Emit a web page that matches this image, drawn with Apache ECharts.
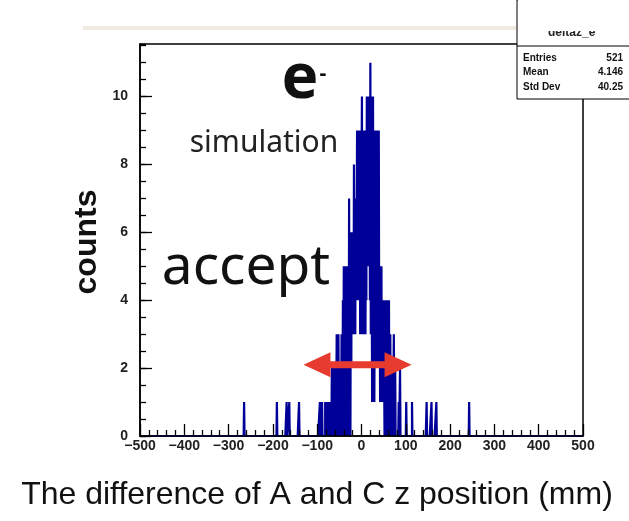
<!DOCTYPE html>
<html><head><meta charset="utf-8">
<script src="https://cdn.jsdelivr.net/npm/echarts@6/dist/echarts.min.js"></script>
<style>html,body{margin:0;padding:0;background:#fff}#c{width:629px;height:521px}</style>
</head><body><div id="c"></div>
<script>
// ---- histogram definition (1 mm bins from -500 to 500) ----
const histMin = -500;
const histMax = 500;
// counts of consecutive 1 mm bins starting at the bin whose low edge is centralFirstBin
const centralFirstBin = -82;
const centralCounts = [
  1,0,1,0,0,1,0,1,0,0,          // -82 .. -73
  1,0,1,1,0,2,0,1,0,1,2,0,      // -72 .. -61
  1,2,0,1,3,0,2,1,3,0,          // -60 .. -51
  2,0,1,2,0,3,1,0,              // -50 .. -43
  4,0,5,2,0,4,5,1,3,0,5,2,4,0,  // -42 .. -29
  7,1,5,0,6,2,6,3,5,            // -28 .. -20
  5,3,8,4,6,3,7,4,6,            // -19 .. -11
  9,4,7,5,9,4,8,3,9,5,          // -10 .. -1
  5,10,3,8,4,9,3,7,9,3,8,4,10,5,// 0 .. 13
  10,5,10,6,10,4,11,3,10,5,1,9,10, // 14 .. 26
  3,6,1,5,                      // 27 .. 30
  9,2,7,9,3,6,2,6,9,3,          // 31 .. 40
  5,1,4,2,5,1,3,4,              // 41 .. 48
  1,4,2,0,3,1,4,0,              // 49 .. 56
  2,4,0,3,1,4,0,2,3,0,2,1,      // 57 .. 68
  0,2,0,0,3,0,0,2,0,0,          // 69 .. 78
  0,0,0,0,0,1,0,0,2,0,0,0       // 79 .. 90
];
const isolatedBins   = [-265, -191, -169, -163, -141, -94, -89, 101, 114, 147, 158, 169, 243];
const isolatedCounts = [1, 1, 1, 1, 1, 1, 1, 1, 1, 1, 1, 1, 1];

const xTickValues = [-500, -400, -300, -200, -100, 0, 100, 200, 300, 400, 500];
const yTickValues = [0, 2, 4, 6, 8, 10];
const yMax = 11.55;

const statsTitle = 'deltaz_e';
const statsLabels = ['Entries', 'Mean', 'Std Dev'];
const statsValues = ['521', '4.146', '40.25'];

const arrowSpan = [-131, 113];
const arrowLevel = 2.1;

// ---- build histogram outline points ----
const nBins = histMax - histMin;
const counts = new Array(nBins).fill(0);
centralCounts.forEach((c, i) => { counts[centralFirstBin + i - histMin] += c; });
isolatedBins.forEach((b, i) => { counts[b - histMin] += isolatedCounts[i]; });
const points = counts.map((c, i) => [histMin + i, c]);
points.push([histMax, 0]);

const chart = echarts.init(document.getElementById('c'), null, {renderer: 'canvas'});
const labelFont = {color: '#222', fontSize: 14, fontWeight: 'bold', fontFamily: 'Liberation Sans, Arial, sans-serif'};

const statsGraphics = [];
statsLabels.forEach((l, i) => {
  statsGraphics.push({type: 'text', id: 'sl' + i, z: 60, left: 523, top: 53 + i * 14.5,
    style: {text: l, fontSize: 10, fontWeight: 'bold', fontFamily: 'Liberation Sans, Arial', fill: '#111'}});
  statsGraphics.push({type: 'text', id: 'sv' + i, z: 60, right: 6, top: 53 + i * 14.5,
    style: {text: statsValues[i], fontSize: 10, fontWeight: 'bold', fontFamily: 'Liberation Sans, Arial', fill: '#111', textAlign: 'right'}});
});

chart.setOption({
  animation: false,
  backgroundColor: '#fff',
  grid: {left: 140, top: 44, width: 443, height: 392, show: true, borderColor: '#000', borderWidth: 1.5, backgroundColor: 'transparent'},
  xAxis: {
    type: 'value', min: histMin, max: histMax, interval: 100, z: 3,
    axisLine: {show: true, onZero: false, lineStyle: {color: '#000', width: 1.5}},
    axisTick: {show: true, inside: true, length: 12, lineStyle: {color: '#000', width: 1.3}},
    minorTick: {show: true, splitNumber: 5, length: 6, lineStyle: {color: '#000', width: 1.3}},
    splitLine: {show: false},
    axisLabel: Object.assign({margin: 3, formatter: v => xTickValues.includes(v) ? (v < 0 ? '\u2212' + (-v) : String(v)) : ''}, labelFont)
  },
  yAxis: [{
    type: 'value', min: 0, max: yMax, interval: 2, position: 'left', z: 3,
    axisLine: {show: true, onZero: false, lineStyle: {color: '#000', width: 1.5}},
    axisTick: {show: true, inside: true, length: 12, lineStyle: {color: '#000', width: 1.3}},
    splitLine: {show: false},
    axisLabel: Object.assign({margin: 12, showMaxLabel: false, formatter: v => yTickValues.includes(v) ? String(v) : ''}, labelFont)
  }, {
    type: 'value', min: 0, max: yMax, interval: 0.5, position: 'left', z: 3,
    axisLine: {show: false, onZero: false},
    axisTick: {show: true, inside: true, length: 6, lineStyle: {color: '#000', width: 1.3}},
    splitLine: {show: false},
    axisLabel: {show: false}
  }],
  series: [{
    type: 'line', data: points, step: 'end', showSymbol: false, symbol: 'none',
    yAxisIndex: 0, clip: true, z: 2,
    lineStyle: {color: '#000099', width: 2.2}
  }],
  graphic: [
    // stats box
    {type: 'rect', id: 'sbox', z: 50, shape: {x: 517, y: 0, width: 140, height: 99}, style: {fill: '#fff', stroke: '#000', lineWidth: 1}},
    {type: 'line', id: 'ssep', z: 51, shape: {x1: 517, y1: 46, x2: 629, y2: 46}, style: {stroke: '#000', lineWidth: 1}},
    {type: 'text', id: 'stitle', z: 52, left: 548, top: 27, style: {text: statsTitle, fontSize: 12, fontWeight: 'bold', fontFamily: 'Liberation Sans, Arial', fill: '#222'}},
    {type: 'rect', id: 'scover', z: 53, shape: {x: 518, y: 0, width: 120, height: 31}, style: {fill: '#fff'}},
    ...statsGraphics,
    // top band of the slide
    {type: 'rect', id: 'topcover', z: 90, shape: {x: 0, y: 0, width: 516, height: 26}, style: {fill: '#fff'}},
    {type: 'rect', id: 'band', z: 91, shape: {x: 83, y: 26, width: 433, height: 4}, style: {fill: '#efebe3'}},
    // annotations
    {type: 'text', id: 't_e2', z: 40, position: [300, 49], style: {text: 'e', fontSize: 62, fontWeight: 'bold', fontFamily: 'Noto Sans, sans-serif', fill: '#111', textAlign: 'center'}},
    {type: 'text', id: 't_minus', z: 40, position: [323, 63], style: {text: '-', fontSize: 22, fontWeight: 'bold', fontFamily: 'Liberation Sans, Arial', fill: '#111', textAlign: 'center'}},
    {type: 'text', id: 't_sim', z: 40, position: [264, 128], style: {text: 'simulation', fontSize: 30, fontFamily: 'Noto Sans, sans-serif', fill: '#222', textAlign: 'center'}},
    {type: 'text', id: 't_acc', z: 40, position: [246, 241], style: {text: 'accept', fontSize: 55, fontFamily: 'Noto Sans, sans-serif', fill: '#111', textAlign: 'center'}},
    {type: 'text', id: 't_counts', z: 40, position: [87, 242], rotation: Math.PI / 2, style: {text: 'counts', fontSize: 32, fontWeight: 'bold', fontFamily: 'Liberation Sans, Arial', fill: '#111', textAlign: 'center', textVerticalAlign: 'middle'}},
    {type: 'text', id: 't_xtitle', z: 40, position: [317, 479], style: {text: 'The difference of A and C z position (mm)', fontSize: 32, fontFamily: 'Liberation Sans, Arial', fill: '#111', textAlign: 'center'}}
  ]
});

// red double arrow placed at data coordinates
const pL = chart.convertToPixel({gridIndex: 0}, [arrowSpan[0], arrowLevel]);
const pR = chart.convertToPixel({gridIndex: 0}, [arrowSpan[1], arrowLevel]);
const hl = 27, hh = 12.5, sh = 3.5, cy = pL[1];
chart.setOption({graphic: [{
  type: 'polygon', id: 'arrow', z: 30,
  shape: {points: [
    [pL[0], cy], [pL[0] + hl, cy - hh], [pL[0] + hl, cy - sh], [pR[0] - hl, cy - sh], [pR[0] - hl, cy - hh],
    [pR[0], cy], [pR[0] - hl, cy + hh], [pR[0] - hl, cy + sh], [pL[0] + hl, cy + sh], [pL[0] + hl, cy + hh]
  ]},
  style: {fill: '#e63b2e'}
}]});
</script>
</body></html>
